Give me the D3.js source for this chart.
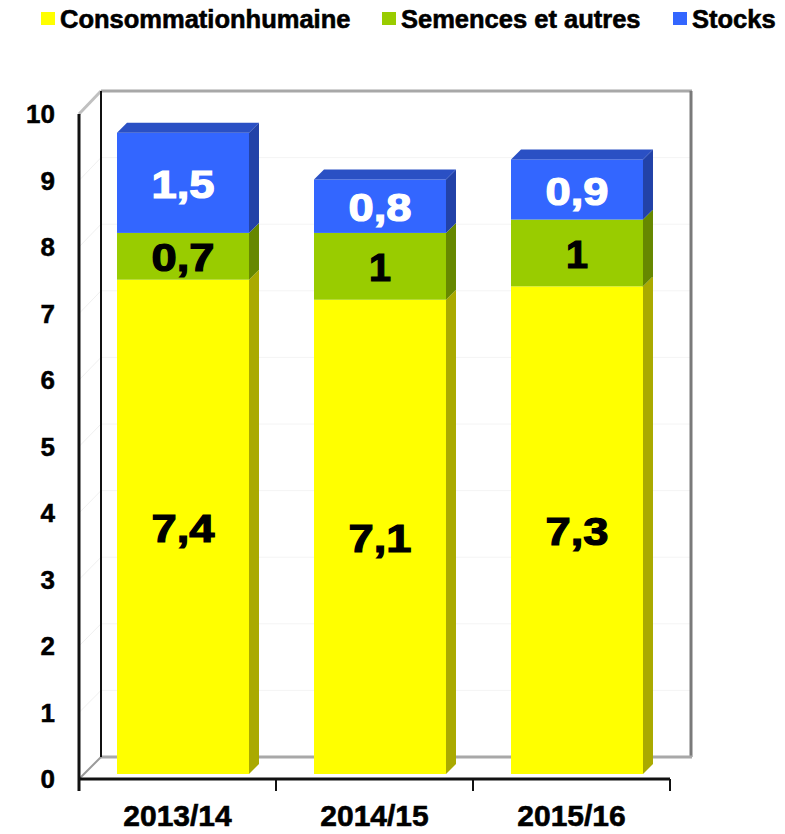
<!DOCTYPE html>
<html><head><meta charset="utf-8">
<script src="https://cdn.jsdelivr.net/npm/d3@7"></script>
<style>
html,body{margin:0;padding:0;background:#fff;}
svg{display:block;font-family:"Liberation Sans",Arial,sans-serif;font-weight:bold;}
</style></head>
<body><svg id="c" width="785" height="834"></svg>
<script>
const categories = ["2013/14", "2014/15", "2015/16"];
const consommation = [7.4, 7.1, 7.3];
const semences = [0.7, 1, 1];
const stocks = [1.5, 0.8, 0.9];
const seriesNames = ["Consommationhumaine", "Semences et autres", "Stocks"];
const yTickValues = [0, 1, 2, 3, 4, 5, 6, 7, 8, 9, 10];

const series = [
  {name: seriesNames[0], values: consommation, front: "#FFFF00", side: "#AAAA00", top: "#DDDD00", label: "#000"},
  {name: seriesNames[1], values: semences, front: "#99CC00", side: "#668800", top: "#80AA00", label: "#000"},
  {name: seriesNames[2], values: stocks, front: "#3366FF", side: "#2242A8", top: "#2A50C4", label: "#fff"}
];

const svg = d3.select("#c");
const DEPTH = 22;      // wall depth
const BD = 10;         // bar depth
const BO = 5;          // bar offset from front plane

const x = d3.scaleBand().domain(categories).range([79, 670]).paddingInner(0).paddingOuter(0);
const yFront = d3.scaleLinear().domain([0, 10]).range([779, 114]);
const yBack = d3.scaleLinear().domain([0, 10]).range([757, 91]);
const yBar = d3.scaleLinear().domain([0, 10]).range([774, 106]);
const xLeftFront = x.range()[0], xLeftBack = xLeftFront + DEPTH, xRightBack = 691;

// Back wall gridlines
svg.append("g").selectAll("line").data(yTickValues.slice(1, 10)).join("line")
  .attr("x1", xLeftBack).attr("x2", xRightBack)
  .attr("y1", d => yBack(d)).attr("y2", d => yBack(d))
  .attr("stroke", "#f4f4f4").attr("stroke-width", 1);
// Left wall gridlines
svg.append("g").selectAll("line").data(yTickValues.slice(1, 10)).join("line")
  .attr("x1", xLeftFront).attr("x2", xLeftBack)
  .attr("y1", d => yFront(d)).attr("y2", d => yBack(d))
  .attr("stroke", "#f0f0f0").attr("stroke-width", 1);

// Walls frame
const frame = svg.append("g").attr("fill", "none");
frame.append("line").attr("x1", xLeftBack).attr("x2", xRightBack + 1).attr("y1", yBack(10)).attr("y2", yBack(10)).attr("stroke", "#a8a8a8").attr("stroke-width", 3);
frame.append("line").attr("x1", xLeftFront).attr("x2", xLeftBack).attr("y1", yFront(10)).attr("y2", yBack(10)).attr("stroke", "#c0c0c0").attr("stroke-width", 3);
frame.append("line").attr("x1", xRightBack).attr("x2", xRightBack).attr("y1", yBack(10)).attr("y2", yBack(0)).attr("stroke", "#7a7a7a").attr("stroke-width", 3);
frame.append("line").attr("x1", xLeftBack).attr("x2", xRightBack + 1).attr("y1", yBack(0)).attr("y2", yBack(0)).attr("stroke", "#a8a8a8").attr("stroke-width", 3);
frame.append("line").attr("x1", xLeftFront).attr("x2", xLeftBack).attr("y1", yFront(0)).attr("y2", yBack(0)).attr("stroke", "#9a9a9a").attr("stroke-width", 2);
frame.append("line").attr("x1", xLeftBack).attr("x2", xLeftBack).attr("y1", yBack(10)).attr("y2", yBack(0)).attr("stroke", "#111").attr("stroke-width", 2);

// Bars
const bw = x.bandwidth() * 0.67;
categories.forEach((cat, i) => {
  const cx = x(cat) + x.bandwidth() / 2 + BO + 0.5;
  const x0 = cx - bw / 2, x1 = cx + bw / 2;
  let base = 0;
  const g = svg.append("g");
  series.forEach((s, si) => {
    const v = s.values[i];
    const yb = yBar(base), yt = yBar(base + v);
    g.append("rect").attr("x", x0).attr("y", yt).attr("width", bw).attr("height", yb - yt).attr("fill", s.front);
    g.append("path").attr("d", d3.line()([[x1, yt], [x1 + BD, yt - BD], [x1 + BD, yb - BD], [x1, yb]])).attr("fill", s.side);
    if (si === series.length - 1) {
      g.append("path").attr("d", d3.line()([[x0, yt], [x0 + BD, yt - BD], [x1 + BD, yt - BD], [x1, yt]])).attr("fill", s.top);
    }
    base += v;
  });
  // labels
  base = 0;
  series.forEach(s => {
    const v = s.values[i];
    const txt = String(v).replace(".", ",");
    const ym = yBar(base + v / 2) + 2;
    const w = txt.length === 1 ? 22 : 63;
    g.append("text").attr("x", cx).attr("y", ym)
      .attr("text-anchor", "middle").attr("dominant-baseline", "central")
      .attr("font-size", 38).attr("fill", s.label)
      .attr("stroke", s.label).attr("stroke-width", 1.2)
      .attr("textLength", w).attr("lengthAdjust", "spacingAndGlyphs")
      .text(txt);
    base += v;
  });
});

// Front axes
const ax = svg.append("g");
ax.append("line").attr("x1", xLeftFront).attr("x2", xLeftFront).attr("y1", yFront(10)).attr("y2", yFront(0) + 12).attr("stroke", "#111").attr("stroke-width", 3);
ax.append("line").attr("x1", xLeftFront).attr("x2", x.range()[1]).attr("y1", yFront(0)).attr("y2", yFront(0)).attr("stroke", "#111").attr("stroke-width", 3);
const bounds = categories.map(c => x(c)).concat([x.range()[1]]);
ax.selectAll(".tk").data(bounds).join("line")
  .attr("x1", d => d).attr("x2", d => d).attr("y1", yFront(0)).attr("y2", yFront(0) + 12)
  .attr("stroke", "#111").attr("stroke-width", 2);

// Y tick labels
svg.append("g").selectAll("text").data(yTickValues).join("text")
  .attr("x", 55).attr("y", d => yFront(d)).attr("dy", "0.35em")
  .attr("text-anchor", "end").attr("font-size", 26).attr("fill", "#000")
  .attr("stroke", "#000").attr("stroke-width", 0.5)
  .text(d => d);

// Category labels
svg.append("g").selectAll("text").data(categories).join("text")
  .attr("x", d => x(d) + x.bandwidth() / 2).attr("y", 826)
  .attr("text-anchor", "middle").attr("font-size", 30).attr("fill", "#000")
  .attr("stroke", "#000").attr("stroke-width", 0.6)
  .text(d => d);

// Legend
const legendX = [41, 382, 673];
const lg = svg.append("g");
series.forEach((s, i) => {
  lg.append("rect").attr("x", legendX[i]).attr("y", 12).attr("width", 14).attr("height", 13).attr("fill", s.front);
  lg.append("text").attr("x", legendX[i] + 19).attr("y", 28).attr("font-size", 25.5).attr("fill", "#000")
    .attr("stroke", "#000").attr("stroke-width", 0.6).text(s.name);
});
</script></body></html>
